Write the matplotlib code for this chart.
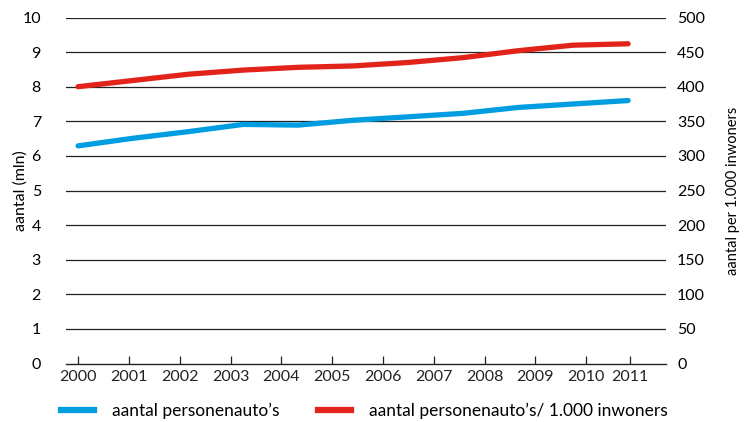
import matplotlib.pyplot as plt
import numpy as np
from matplotlib.lines import Line2D

plt.rcParams['font.family'] = ['Lato', 'DejaVu Sans']

# tick labels on the x axis
years = ['2000', '2001', '2002', '2003', '2004', '2005',
         '2006', '2007', '2008', '2009', '2010', '2011']

# 11 data points, drawn evenly over the width of the chart
auto_mln = [6.29, 6.51, 6.70, 6.91, 6.89, 7.03, 7.13, 7.23, 7.40, 7.50, 7.60]
auto_per_1000 = [400, 409, 418, 424, 428, 430, 435, 442, 452, 460, 462]

blue = '#009ee0'
red = '#e2231a'

fig = plt.figure(figsize=(7.47, 4.22), dpi=100)
ax1 = fig.add_axes([66/747, 1 - 363.5/422, 600/747, 346/422])
ax2 = ax1.twinx()

xd = np.arange(len(auto_mln))
ax1.plot(xd, auto_mln, color=blue, lw=3.8, solid_capstyle='round', zorder=3)
ax2.plot(xd, auto_per_1000, color=red, lw=3.8, solid_capstyle='round', zorder=3)

ax1.set_ylim(0, 10)
ax2.set_ylim(0, 500)
ax1.set_xlim(-0.22, 10.69)
ax1.set_yticks(range(0, 11))
ax2.set_yticks(range(0, 501, 50))
for v in range(1, 11):
    ax1.axhline(v, color='#222222', lw=0.9, zorder=1)

# tick marks sit a bit closer together than the data points
xt = list(np.arange(11) * 0.924) + [10.04]
ax1.set_xticks(xt)
ax1.set_xticklabels(years)

for a in (ax1, ax2):
    for s in ('top', 'left', 'right'):
        a.spines[s].set_visible(False)
ax2.spines['bottom'].set_visible(False)
ax1.spines['bottom'].set_color('#222222')
ax1.spines['bottom'].set_linewidth(1.0)

ax1.tick_params(axis='x', direction='in', length=6, width=0.9, pad=5,
                labelsize=11.5, colors='#222222')
ax1.tick_params(axis='y', length=0, pad=18, labelsize=11.5)
ax2.tick_params(axis='y', length=0, pad=8, labelsize=11.5)

ax1.set_ylabel('aantal (mln)', fontsize=11.5)
ax1.yaxis.set_label_coords(-38/600, 0.5)
ax2.set_ylabel('aantal per 1.000 inwoners', fontsize=10.5, labelpad=15)

handles = [Line2D([], [], color=blue, lw=4.5),
           Line2D([], [], color=red, lw=4.5)]
fig.legend(handles, ["aantal personenauto\u2019s",
                     "aantal personenauto\u2019s/ 1.000 inwoners"],
           loc='center left', bbox_to_anchor=(45/747, 1 - 411/422), ncol=2,
           frameon=False, fontsize=12.5, handlelength=1.95, handletextpad=1.0,
           columnspacing=2.2)

fig.savefig('out.png', dpi=100)
